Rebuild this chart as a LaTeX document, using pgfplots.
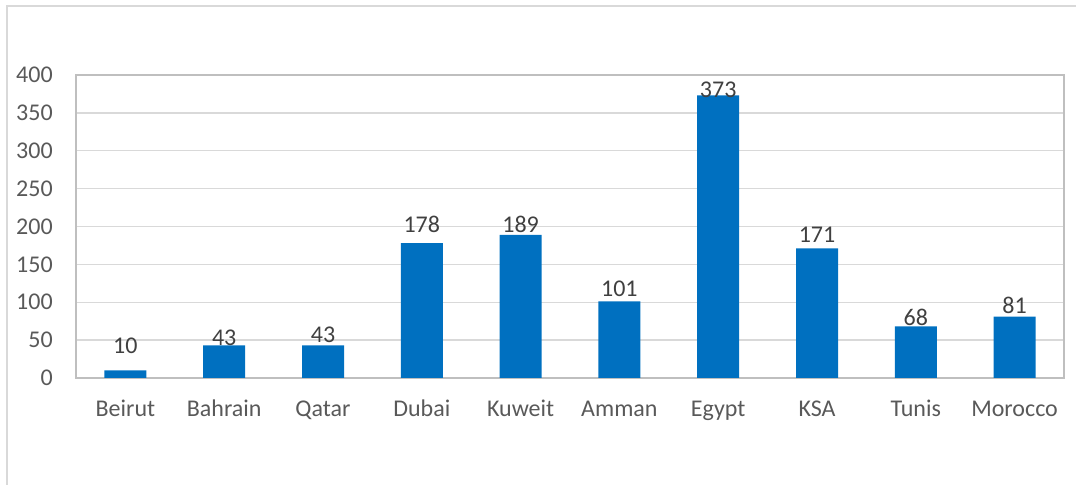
\documentclass[border=0pt]{standalone}
\usepackage{fontspec}
\setmainfont{Carlito}
\usepackage{pgfplots}
\usepackage{pgfplotstable}
\pgfplotsset{compat=1.18}
\definecolor{barblue}{HTML}{0070C0}
\definecolor{txtgray}{HTML}{595959}
\definecolor{lblgray}{HTML}{404040}
\definecolor{gridgray}{HTML}{D9D9D9}
\definecolor{axgray}{HTML}{BFBFBF}
\pgfplotstableread{
x val off
0 10 12.75
1 43 0
2 43 2
3 178 8.25
4 189 1.5
5 101 3.5
6 373 -1.5
7 171 4.2
8 68 0.75
9 81 2.5
}\datatab
\begin{document}
\begin{tikzpicture}
\path[use as bounding box] (0pt,0pt) rectangle (807pt,363.75pt);
\draw[gridgray, line width=1.5pt] (5.25pt,-10pt) -- (5.25pt,359.5pt) -- (830pt,359.5pt);
\begin{axis}[
  at={(57pt,80.25pt)}, anchor=south west,
  scale only axis, width=741pt, height=227.25pt,
  xmin=-0.5, xmax=9.5, ymin=0, ymax=400,
  ytick={0,50,...,400},
  xtick={0,...,9},
  xticklabels={Beirut,Bahrain,Qatar,Dubai,Kuweit,Amman,Egypt,KSA,Tunis,Morocco},
  ymajorgrids,
  grid style={gridgray, line width=1.1pt},
  axis line style={axgray, line width=1.5pt},
  major tick length=0pt,
  /pgf/number format/assume math mode=true,
  tick label style={font=\fontsize{18}{21}\selectfont, text=txtgray},
  yticklabel style={anchor=east, inner sep=0pt, xshift=-17.25pt},
  xticklabel style={anchor=base, inner sep=0pt, yshift=-29pt},
  clip=false,
]
\addplot[ybar, bar width=31.5pt, fill=barblue, draw=none,
  visualization depends on={\thisrow{off} \as \myoff},
  nodes near coords,
  nodes near coords style={anchor=base, inner sep=0pt, yshift=\myoff pt,
    font=\fontsize{18}{21}\selectfont, text=lblgray,
    /pgf/number format/assume math mode=true},
] table[x=x, y=val] {\datatab};
\end{axis}
\end{tikzpicture}
\end{document}
